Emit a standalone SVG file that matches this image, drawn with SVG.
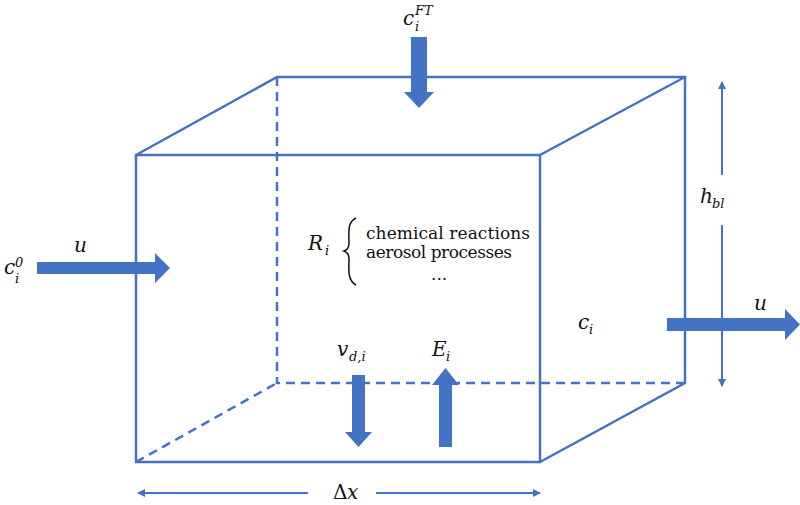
<svg xmlns="http://www.w3.org/2000/svg" width="800" height="505" viewBox="0 0 800 505">
<style>
.e{stroke:#4472C4;stroke-width:2.5;fill:none}
.d{stroke:#4472C4;stroke-width:2.5;fill:none;stroke-dasharray:9,6}
.t{stroke:#4472C4;stroke-width:2;fill:none}
.b{fill:#4472C4}
text{font-family:'DejaVu Serif','Liberation Serif',serif;fill:#111}
.m{font-style:italic;font-size:20px}
.s{font-style:italic;font-size:13px}
.n{font-size:17px}
</style>
<defs>
<marker id="ah" markerWidth="8" markerHeight="8" refX="7" refY="4" orient="auto" markerUnits="userSpaceOnUse"><path d="M0,0 L8,4 L0,8 Z" fill="#4472C4"/></marker>
</defs>
<g id="box">
<path class="d" d="M277,77 V383 H685 M136,462 L277,383"/>
<path class="e" d="M136,155 H540 V462 H136 Z M136,155 L277,77 H685 V383 L540,462 M540,155 L685,77"/>
</g>
<g id="connectors">
<path class="b" d="M37,262 H155 V253 L170,268 L155,283 V274 H37 Z"/>
<path class="b" d="M411,37 H427 V92 H434 L419,108 L404,92 H411 Z"/>
<path class="b" d="M352,375 H365 V432 H372 L358.5,447 L345,432 H352 Z"/>
<path class="b" d="M439,447 H452 V385 H459 L445.5,368 L432,385 H439 Z"/>
<path class="b" d="M667,318 H785 V309 L800,324.5 L785,340 V331 H667 Z"/>
<path class="t" d="M722,175 V82" marker-end="url(#ah)"/>
<path class="t" d="M722,225 V386" marker-end="url(#ah)"/>
<path class="t" d="M308,493 H138" marker-end="url(#ah)"/>
<path class="t" d="M376,493 H540" marker-end="url(#ah)"/>
</g>
<g id="labels">
<text class="m" x="4" y="274">c</text><text class="s" x="15" y="267">0</text><text class="s" x="15" y="283">i</text>
<text class="m" x="74" y="252">u</text>
<text class="m" x="403" y="25">c</text><text class="s" x="415" y="15">FT</text><text class="s" x="415" y="31">i</text>
<text class="m" x="308" y="250">R</text><text class="s" x="325" y="255">i</text>
<path d="M356,218 C347,222 349,233 349,243 C349,248 347,250 344,251 C347,252 349,254 349,259 C349,269 347,280 356,285" fill="none" stroke="#111" stroke-width="1.5"/>
<text class="n" x="366" y="239" textLength="164">chemical reactions</text>
<text class="n" x="366" y="258" textLength="146">aerosol processes</text>
<text class="n" x="431" y="280">...</text>
<text class="m" x="578" y="329">c</text><text class="s" x="589" y="334">i</text>
<text class="m" x="754" y="310">u</text>
<text class="m" x="337" y="356">v</text><text class="s" x="349" y="361">d,i</text>
<text class="m" x="432" y="356">E</text><text class="s" x="446" y="361">i</text>
<text class="m" x="700" y="203">h</text><text class="s" x="712" y="208">bl</text>
<text class="m" x="333" y="499" style="font-style:normal">Δ</text><text class="m" x="347" y="499">x</text>
</g>
</svg>
